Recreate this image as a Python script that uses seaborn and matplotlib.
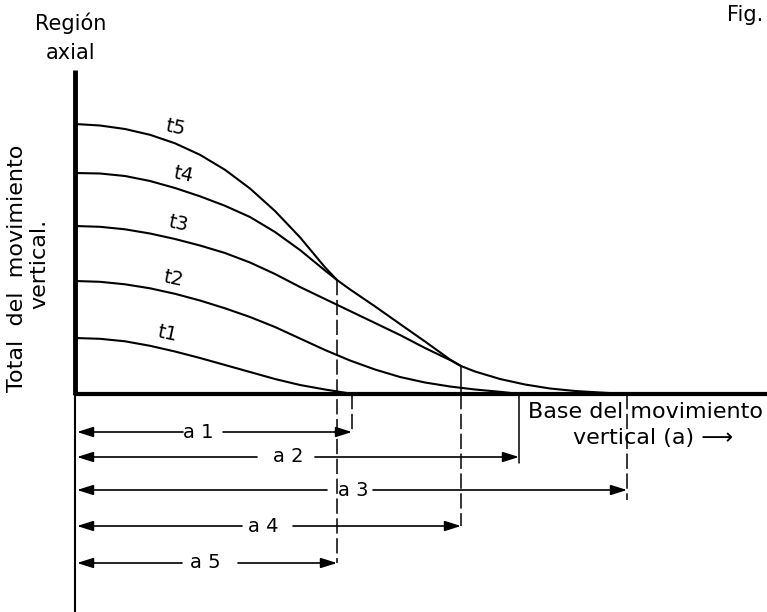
import pandas as pd
import matplotlib
matplotlib.use("Agg")
import matplotlib.pyplot as plt
import seaborn as sns

# readings: x = distance from the axial region, y = vertical movement
t1_x = [0, 2.5, 5, 7.5, 10, 12.5, 15, 17.5, 20, 22.5, 25, 27.5, 27.7]
t1_y = [5.6, 5.52, 5.27, 4.82, 4.25, 3.6, 2.9, 2.2, 1.5, 0.9, 0.45, 0.05, 0.0]

t2_x = [0, 2.5, 5, 7.5, 10, 12.5, 15, 17.5, 20, 22.5, 25, 27.5, 30, 32.5, 35,
        37.5, 40, 42.5, 44.5]
t2_y = [11.3, 11.22, 10.97, 10.57, 10.02, 9.35, 8.57, 7.7, 6.7, 5.55, 4.4, 3.35,
        2.45, 1.7, 1.15, 0.75, 0.45, 0.22, 0.0]

t3_x = [0, 2.5, 5, 7.5, 10, 12.5, 15, 17.5, 20, 22.5, 25, 27.5, 30, 32.5, 35,
        37.5, 38.6, 40, 42.5, 45, 47.5, 50, 52.5, 55.2]
t3_y = [16.8, 16.72, 16.47, 16.05, 15.5, 14.85, 14.1, 13.15, 12.0, 10.7, 9.5, 8.3,
        7.1, 5.9, 4.6, 3.4, 2.8, 2.25, 1.5, 0.95, 0.55, 0.3, 0.15, 0.0]

t4_x = [0, 2.5, 5, 7.5, 10, 12.5, 15, 17.5, 20, 22.5, 25, 26.2, 27.5, 30, 32.5,
        35, 37.5, 38.6]
t4_y = [22.1, 22.05, 21.8, 21.3, 20.6, 19.77, 18.82, 17.7, 16.2, 14.4, 12.35, 11.4,
        10.46, 8.76, 7.0, 5.25, 3.45, 2.8]

t5_x = [0, 2.5, 5, 7.5, 10, 12.5, 15, 17.5, 20, 22.5, 25, 26.2]
t5_y = [27.0, 26.85, 26.5, 25.92, 25.07, 23.92, 22.42, 20.55, 18.3, 15.67, 12.67, 11.4]

curve_names = ["t1", "t2", "t3", "t4", "t5"]
curve_data = [(t1_x, t1_y), (t2_x, t2_y), (t3_x, t3_y), (t4_x, t4_y), (t5_x, t5_y)]

# base of the vertical movement for each a_i
a_names = ["a 1", "a 2", "a 3", "a 4", "a 5"]
a_ends = [27.7, 44.4, 55.2, 38.6, 26.2]

df = pd.concat([pd.DataFrame({"x": x, "y": y, "curve": n})
                for n, (x, y) in zip(curve_names, curve_data)], ignore_index=True)

sns.set_style("white")
plt.rcParams["font.family"] = ["DejaVu Sans"]
plt.rcParams["text.color"] = "black"

fig = plt.figure(figsize=(7.67, 6.12), dpi=100)
ax = fig.add_axes([0, 0, 1, 1])
sns.lineplot(data=df, x="x", y="y", units="curve", estimator=None, sort=False,
             color="black", lw=1.5, ax=ax)
ax.set_xlim(-7.5, 69.2)
ax.set_ylim(-21.8, 39.4)
ax.set_axis_off()

# axes drawn by hand
ax.plot([0, 0], [0, 32.4], color="black", lw=3.5, solid_capstyle="butt")
ax.plot([0, 0], [-21.8, 0], color="black", lw=1.5)
ax.plot([0, 69.2], [0, 0], color="black", lw=3)

# curve labels
lab_pos = [(9.2, 6.0), (9.8, 11.5), (10.3, 17.0), (10.8, 21.9), (10.0, 26.6)]
for n, (lx, ly) in zip(curve_names, lab_pos):
    ax.text(lx, ly, n, fontsize=14, rotation=-12, ha="center", va="center", color="black")

# vertical guide lines
dash = (0, (10, 3))
ax.plot([26.2, 26.2], [11.4, -16.9], color="black", lw=1.1, ls=dash)
ax.plot([27.7, 27.7], [0, -3.8], color="black", lw=1.1, ls=dash)
ax.plot([38.6, 38.6], [2.8, 0], color="black", lw=1.1)
ax.plot([38.6, 38.6], [0, -13.2], color="black", lw=1.1, ls=dash)
ax.plot([44.4, 44.4], [0, -6.9], color="black", lw=1.1)
ax.plot([55.2, 55.2], [0, -10.6], color="black", lw=1.1, ls=dash)

# dimension arrows
levels = [-3.8, -6.3, -9.6, -13.2, -16.9]
label_x = [12.3, 21.3, 27.8, 18.8, 13.0]
gap_lo = [10.8, 18.2, 25.2, 16.7, 10.7]
gap_hi = [14.8, 24.0, 29.8, 21.8, 16.3]
arrow = dict(arrowstyle="-|>,head_length=0.7,head_width=0.22", color="black",
             lw=1.2, shrinkA=0, shrinkB=0, mutation_scale=14)
for n, end, yl, lx, g0, g1 in zip(a_names, a_ends, levels, label_x, gap_lo, gap_hi):
    ax.annotate("", xy=(0.2, yl), xytext=(g0, yl), arrowprops=arrow)
    ax.annotate("", xy=(end, yl), xytext=(g1, yl), arrowprops=arrow)
    ax.text(lx, yl, n, fontsize=14, ha="center", va="center", color="black")

# titles
txt = dict(color="black", ha="center", va="center")
ax.text(-0.4, 37.1, "Región", fontsize=15, **txt)
ax.text(-0.4, 34.1, "axial", fontsize=15, **txt)
ax.text(65.2, 37.9, "Fig.", fontsize=15, color="black", ha="left", va="center")
ax.text(-5.8, 12.6, "Total  del  movimiento", fontsize=16, rotation=90, **txt)
ax.text(-3.6, 13.0, "vertical.", fontsize=16, rotation=90, **txt)
ax.text(57.1, -1.8, "Base del movimiento", fontsize=16, **txt)
ax.text(57.8, -4.4, "vertical (a) ⟶", fontsize=16, **txt)

fig.savefig("out.png", dpi=100)
